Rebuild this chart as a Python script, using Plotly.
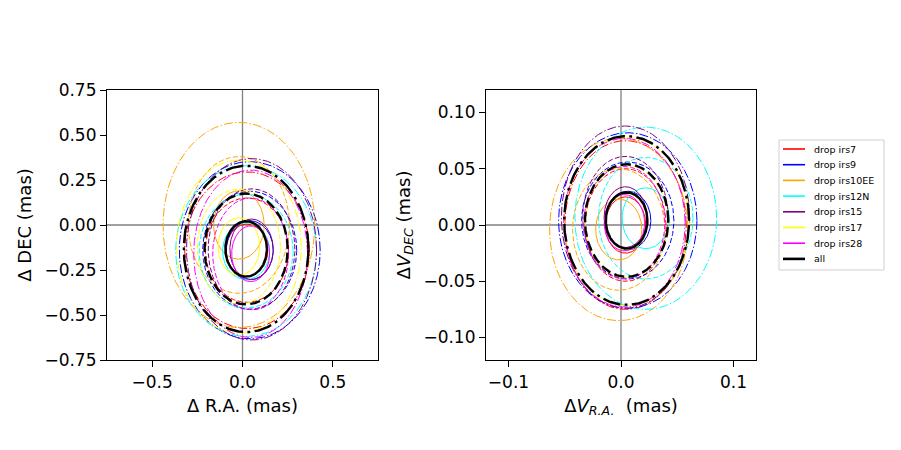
import numpy as np
import plotly.graph_objects as go

labels = ["drop irs7", "drop irs9", "drop irs10EE", "drop irs12N", "drop irs15", "drop irs17", "drop irs28", "all"]
colors = ["#ff0000", "#0000ff", "#ffa500", "#00ffff", "#800080", "#ffff00", "#ff00ff", "#000000"]

# position ellipses (1-sigma): centre and semi-axes, mas
pos_cx = [0.025, 0.04, -0.02, 0.02, 0.05, -0.02, 0.045, 0.02]
pos_cy = [-0.14, -0.14, 0.0, -0.145, -0.135, -0.12, -0.16, -0.133]
pos_a = [0.115, 0.13, 0.14, 0.13, 0.12, 0.115, 0.105, 0.115]
pos_b = [0.145, 0.164, 0.19, 0.158, 0.168, 0.16, 0.155, 0.154]

# velocity ellipses (1-sigma)
vel_cx = [0.004, 0.006, -0.002, 0.022, 0.004, 0.005, 0.003, 0.005]
vel_cy = [0.0, 0.004, -0.004, 0.006, 0.007, 0.003, 0.002, 0.004]
vel_a = [0.018, 0.0205, 0.0205, 0.021, 0.019, 0.0185, 0.018, 0.0185]
vel_b = [0.025, 0.026, 0.027, 0.027, 0.027, 0.025, 0.025, 0.025]

sigmas = [1, 2, 3]

pos_xticks = [-0.5, 0.0, 0.5]
pos_yticks = [-0.75, -0.5, -0.25, 0.0, 0.25, 0.5, 0.75]
vel_xticks = [-0.1, 0.0, 0.1]
vel_yticks = [-0.10, -0.05, 0.0, 0.05, 0.10]

W, H = 901, 450
t = np.linspace(0, 2 * np.pi, 361)

def dash_for(k, black):
    s = 2.0 if black else 1.0
    pats = ["solid",
            f"{5.1*s:.1f}px,{2.2*s:.1f}px",
            f"{8.9*s:.1f}px,{2.2*s:.1f}px,{1.4*s:.1f}px,{2.2*s:.1f}px"]
    return pats[k]

fig = go.Figure()

# zero lines
for xa, ya, lim in [("x", "y", 0.75), ("x2", "y2", 0.12)]:
    fig.add_trace(go.Scatter(x=[-lim, lim], y=[0, 0], mode="lines", line=dict(color="#808080", width=1.3),
                             xaxis=xa, yaxis=ya, showlegend=False, hoverinfo="skip"))
    fig.add_trace(go.Scatter(x=[0, 0], y=[-lim, lim], mode="lines", line=dict(color="#808080", width=1.3),
                             xaxis=xa, yaxis=ya, showlegend=False, hoverinfo="skip"))

for i, lab in enumerate(labels):
    black = lab == "all"
    w = 2.4 if black else 1.0
    for (cx, cy, a, b, xa, ya) in [(pos_cx, pos_cy, pos_a, pos_b, "x", "y"),
                                   (vel_cx, vel_cy, vel_a, vel_b, "x2", "y2")]:
        for k, s in enumerate(sigmas):
            fig.add_trace(go.Scatter(
                x=cx[i] + s * a[i] * np.cos(t), y=cy[i] + s * b[i] * np.sin(t),
                mode="lines", line=dict(color=colors[i], width=w, dash=dash_for(k, black)),
                name=lab, showlegend=False,
                xaxis=xa, yaxis=ya, hoverinfo="skip"))

axis_common = dict(showline=True, linecolor="black", linewidth=1.2, mirror=True,
                   ticks="outside", ticklen=6, tickwidth=1.2, tickcolor="black",
                   showgrid=False, zeroline=False, automargin=False,
                   tickfont=dict(family="DejaVu Sans", size=17, color="black"))
title_font = dict(family="DejaVu Sans", size=18, color="black")

# manual legend (box, line samples, texts)
leg_x0, leg_x1, leg_y0, leg_y1 = 779, 884, 140, 270
row_y0, row_dy = 149, 15.7
shapes = [dict(type="rect", xref="paper", yref="paper",
               x0=leg_x0 / W, x1=leg_x1 / W, y0=1 - leg_y1 / H, y1=1 - leg_y0 / H,
               line=dict(color="#d0d0d0", width=1), fillcolor="white", layer="above")]
annotations = []
for i, lab in enumerate(labels):
    yy = 1 - (row_y0 + i * row_dy) / H
    black = lab == "all"
    shapes.append(dict(type="line", xref="paper", yref="paper", x0=783 / W, x1=805 / W, y0=yy, y1=yy,
                       line=dict(color=colors[i], width=2.6 if black else 1.6), layer="above"))
    annotations.append(dict(text=lab, xref="paper", yref="paper", x=812 / W, y=yy,
                            xanchor="left", yanchor="middle", showarrow=False,
                            font=dict(family="DejaVu Sans", size=9.5, color="black")))

fig.update_layout(
    width=W, height=H,
    margin=dict(l=0, r=0, t=0, b=0, autoexpand=False),
    paper_bgcolor="white", plot_bgcolor="white",
    font=dict(family="DejaVu Sans", color="black"),
    xaxis=dict(domain=[107/W, 378/W], range=[-0.75, 0.75], tickvals=pos_xticks, tickformat=".1f",
               title=dict(text="Δ R.A. (mas)", font=title_font, standoff=8), anchor="y", **axis_common),
    yaxis=dict(domain=[1-360/H, 1-90/H], range=[-0.75, 0.75], tickvals=pos_yticks, tickformat=".2f",
               title=dict(text="Δ DEC (mas)", font=title_font, standoff=8), anchor="x", **axis_common),
    xaxis2=dict(domain=[486/W, 756/W], range=[-0.12, 0.12], tickvals=vel_xticks, tickformat=".1f",
                title=dict(text="Δ<i>V</i><sub><i>R.A.</i></sub>  (mas)", font=title_font, standoff=8),
                anchor="y2", **axis_common),
    yaxis2=dict(domain=[1-360/H, 1-90/H], range=[-0.12, 0.12], tickvals=vel_yticks, tickformat=".2f",
                title=dict(text="Δ<i>V</i><sub><i>DEC</i></sub> (mas)", font=title_font, standoff=8),
                anchor="x2", **axis_common),
    shapes=shapes,
    annotations=annotations,
    showlegend=False,
)

fig.write_html("out.html")
